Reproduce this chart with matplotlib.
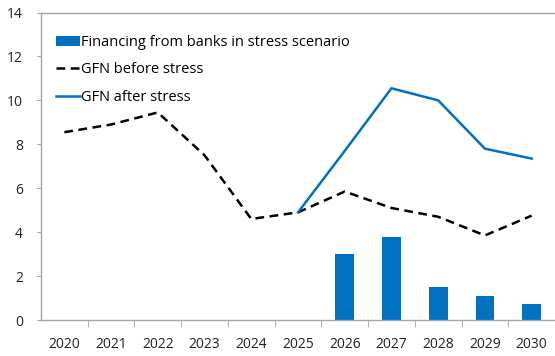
import matplotlib
matplotlib.use("Agg")
import matplotlib.pyplot as plt
import numpy as np

years = ["2020", "2021", "2022", "2023", "2024", "2025", "2026", "2027", "2028", "2029", "2030"]
bank_financing = [np.nan, np.nan, np.nan, np.nan, np.nan, np.nan, 3.0, 3.8, 1.5, 1.1, 0.75]
gfn_before = [8.55, 8.9, 9.45, 7.5, 4.6, 4.9, 5.85, 5.1, 4.7, 3.85, 4.75]
gfn_after = [np.nan, np.nan, np.nan, np.nan, np.nan, 4.9, 7.7, 10.55, 10.0, 7.8, 7.35]

plt.rcParams['font.family'] = ['Open Sans', 'DejaVu Sans']
blue = "#0070C0"
gray = "#A6A6A6"

fig = plt.figure(figsize=(5.55, 3.56), dpi=100)
ax = fig.add_axes([41/555, 1 - 320/356, 514/555, (320 - 12.5)/356])

x = np.arange(len(years))
h_bar = ax.bar(x, bank_financing, width=0.4, color=blue, label="Financing from banks in stress scenario", zorder=2)
h_before, = ax.plot(x, gfn_before, color="black", lw=1.8, ls=(0, (3.5, 2.2)), label="GFN before stress", zorder=3)
h_after, = ax.plot(x, gfn_after, color=blue, lw=1.8, label="GFN after stress", zorder=3)

ax.set_xlim(-0.5, len(years) - 0.5)
ax.set_ylim(0, 14)
ax.set_yticks(np.arange(0, 15, 2))
ax.set_xticks(x)
ax.set_xticklabels(years)
ax.set_xticks(np.arange(0.5, len(years) - 0.5, 1), minor=True)
ax.tick_params(axis='x', which='major', length=0, pad=12, labelsize=10, colors="#222222")
ax.tick_params(axis='x', which='minor', length=5, color=gray, direction='out')
ax.tick_params(axis='y', length=3, labelsize=10, pad=10, colors="#222222")
ax.tick_params(axis='y', color=gray)

for s in ["left", "bottom", "top"]:
    ax.spines[s].set_color(gray)
    ax.spines[s].set_linewidth(1.0)
ax.spines["right"].set_visible(False)

ax.legend(handles=[h_bar, h_before, h_after], loc="upper left", frameon=False, fontsize=10.5,
          labelspacing=0.85, handlelength=1.6, handletextpad=0.1,
          bbox_to_anchor=(0.01, 0.96), borderaxespad=0.3)

fig.savefig("out.png", dpi=100)
